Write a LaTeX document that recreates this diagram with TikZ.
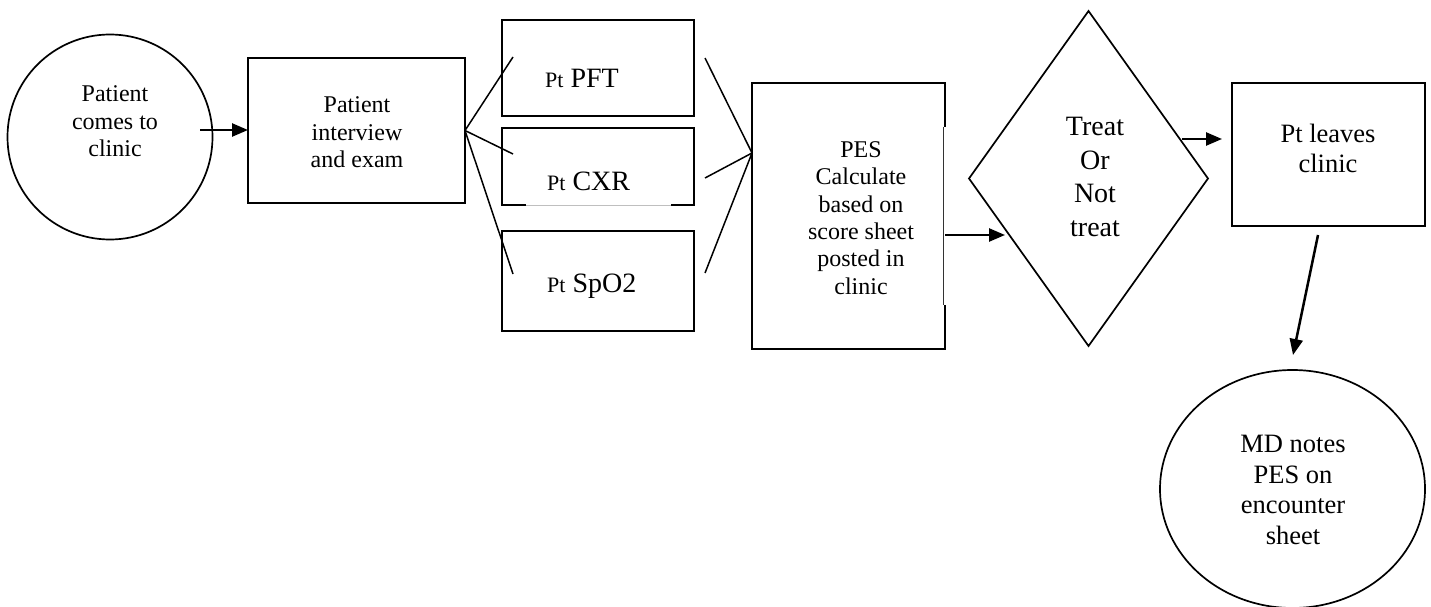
\documentclass[tikz,border=0pt]{standalone}
\usepackage{fontspec}
\setmainfont{Liberation Serif}
\usetikzlibrary{shapes.geometric,arrows.meta}
\begin{document}
\begin{tikzpicture}[x=1pt,y=-1pt,
  shp/.style={draw, line width=1.7pt, inner sep=0pt, outer sep=0pt},
  box/.style={shp, rectangle},
  circ/.style={shp, circle},
  oval/.style={shp, ellipse},
  dia/.style={shp, diamond},
  txt/.style={inner sep=0pt, align=center, font=\fontsize{24}{27.4}\selectfont},
  txtb/.style={inner sep=0pt, align=center, font=\fontsize{28}{33.5}\selectfont},
  txtc/.style={inner sep=0pt, align=center, font=\fontsize{26.5}{30.5}\selectfont},
  tst/.style={inner sep=0pt, anchor=base west, font=\fontsize{28}{33}\selectfont},
  link/.style={line width=1.5pt},
  arr/.style={line width=2.5pt, -{Triangle[length=16pt,width=13pt]}}]
\useasboundingbox (0,0) rectangle (1431,607);
\fill[white] (0,0) rectangle (1431,607);

% shapes
\node[circ, minimum size=205pt] (c1) at (110,137) {};
\node[box, minimum width=217pt, minimum height=145pt] (b2) at (356.5,130.5) {};
\node[box, minimum width=192pt, minimum height=96pt] (pft) at (598,68) {};
\node[box, minimum width=192pt, minimum height=77pt] (cxr) at (598,166.5) {};
\node[box, minimum width=192pt, minimum height=100pt] (spo) at (598,281) {};
\node[box, minimum width=193pt, minimum height=266pt] (pes) at (848.5,216) {};
\node[dia, minimum width=239pt, minimum height=335pt] (dec) at (1088.5,178.5) {};
\node[box, minimum width=193pt, minimum height=143pt] (lv) at (1328.5,154.5) {};
\node[oval, minimum width=265pt, minimum height=238pt] (md) at (1292.5,489) {};

% faint edge segments
\draw[white, line width=2.2pt] ([xshift=24pt]cxr.south west) -- ([xshift=-23pt]cxr.south east);
\draw[black!25, line width=1pt] ([xshift=24pt]cxr.south west) -- ([xshift=-23pt]cxr.south east);
\draw[white, line width=2.2pt] (945,127) -- (945,305);
\draw[black!80, line width=1.1pt] (943.5,127) -- (943.5,305);

% texts
\node[txt] (c1t) at (115,121.5) {Patient\\comes to\\clinic};
\node[txt] (b2t) at (357,132.5) {Patient\\interview\\and exam};
\node[tst] (pftt) at (545,88) {{\fontsize{22}{26}\selectfont Pt} PFT};
\node[tst] (cxrt) at (547,190) {{\fontsize{22}{26}\selectfont Pt} CXR};
\node[tst] (spot) at (547,292) {{\fontsize{22}{26}\selectfont Pt} SpO2};
\node[txt] (pest) at (861,218) {PES\\Calculate\\based on\\score sheet\\posted in\\clinic};
\node[txtb] (dect) at (1095,177) {Treat\\Or\\Not\\treat};
\node[txtc] (lvt) at (1328,148.5) {Pt leaves\\clinic};
\node[txtc] (mdt) at (1293,490) {MD notes\\PES on\\encounter\\sheet};

% connector end points
\coordinate (p1) at (513,57);
\coordinate (p2) at (513,154);
\coordinate (p3) at (513,274);
\coordinate (j2) at (752,153);
\coordinate (q1) at (705,58);
\coordinate (q2) at (705,178);
\coordinate (q3) at (705,273);
\coordinate (a1s) at (200,130);
\coordinate (a2s) at (945,235);
\coordinate (a2e) at (1005,235);
\coordinate (a3s) at (1182,139);
\coordinate (a3e) at (1222,139);
\coordinate (a4s) at (1318,235);
\coordinate (a4e) at (1293,355);

% connectors
\draw[link] (b2.east) -- (p1);
\draw[link] (b2.east) -- (p2);
\draw[link] (b2.east) -- (p3);
\draw[link] (q1) -- (j2);
\draw[link] (q2) -- (j2);
\draw[link] (q3) -- (j2);
\draw[arr] (a1s) -- (b2.west |- a1s);
\draw[arr] (a2s) -- (a2e);
\draw[arr] (a3s) -- (a3e);
\draw[arr] (a4s) -- (a4e);
\end{tikzpicture}
\end{document}
